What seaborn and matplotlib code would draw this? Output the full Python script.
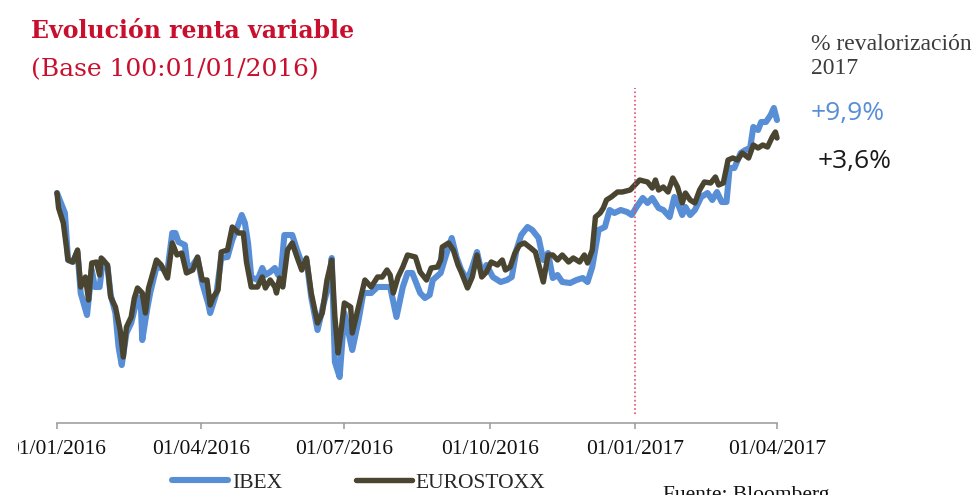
import pandas as pd
import matplotlib.pyplot as plt
import matplotlib.dates as mdates
from matplotlib.transforms import Bbox, TransformedBbox
import seaborn as sns

# base date of the index (Base 100: 01/01/2016); days counted from it
start = pd.Timestamp('2016-01-01')
end = pd.Timestamp('2017-04-01')

ibex_days = [0, 5, 7, 10, 13, 15, 19, 22, 24, 27,
             29, 32, 34, 37, 39, 41, 44, 47, 51, 53,
             54, 57, 59, 63, 66, 70, 73, 75, 77, 81,
             83, 86, 89, 92, 96, 97, 101, 104, 108, 111,
             114, 117, 119, 121, 123, 127, 130, 132, 135, 138,
             140, 142, 144, 149, 152, 155, 158, 161, 165, 169,
             172, 174, 176, 179, 182, 187, 191, 194, 199, 203,
             208, 211, 215, 219, 222, 225, 230, 233, 236, 238,
             243, 246, 250, 253, 256, 260, 263, 266, 269, 272,
             276, 281, 285, 288, 291, 294, 298, 301, 305, 308,
             311, 314, 317, 320, 325, 329, 333, 336, 339, 343,
             347, 350, 353, 357, 361, 364, 367, 371, 374, 377,
             381, 384, 388, 391, 393, 396, 398, 401, 404, 408,
             412, 415, 418, 421, 424, 426, 429, 433, 436, 439,
             441, 444, 446, 449, 452, 454, 456]
ibex_values = [100.0, 98.0, 93.3, 93.1, 94.1, 90.0, 87.8, 92.3, 90.6, 90.6,
               93.3, 92.6, 89.8, 88.0, 84.6, 82.8, 86.0, 87.0, 89.6, 89.3,
               85.3, 88.3, 90.0, 92.6, 92.5, 92.3, 96.0, 96.0, 95.1, 94.8,
               92.3, 92.8, 93.5, 91.0, 88.8, 88.0, 90.0, 93.5, 93.6, 95.3,
               96.5, 97.8, 97.0, 95.0, 91.6, 91.3, 92.5, 91.8, 92.1, 92.5,
               91.8, 92.3, 95.8, 95.8, 94.3, 93.0, 93.3, 89.6, 86.3, 89.0,
               90.8, 93.5, 83.1, 81.6, 88.0, 84.3, 87.3, 90.0, 90.0, 90.6,
               90.6, 90.6, 87.6, 90.6, 92.0, 92.0, 90.0, 89.5, 89.8, 91.3,
               92.0, 93.6, 95.5, 93.6, 92.3, 91.3, 92.6, 94.1, 92.0, 92.8,
               91.6, 91.1, 91.3, 91.6, 94.3, 95.8, 96.6, 96.3, 95.5, 93.3,
               94.0, 91.5, 91.8, 91.1, 91.0, 91.3, 91.5, 91.1, 92.6, 96.3,
               96.6, 98.3, 98.0, 98.3, 98.1, 97.8, 98.6, 99.5, 99.0, 99.5,
               98.5, 98.3, 97.6, 99.6, 99.0, 97.8, 98.6, 97.8, 98.3, 99.6,
               100.0, 99.3, 100.1, 99.1, 99.1, 102.5, 102.5, 104.0, 104.3, 104.5,
               106.6, 106.3, 107.1, 107.1, 107.8, 108.5, 107.3]

stoxx_days = [0, 1, 4, 7, 10, 13, 15, 18, 20, 22,
              25, 27, 28, 32, 34, 37, 40, 42, 44, 47,
              49, 51, 54, 56, 58, 60, 63, 66, 70, 73,
              76, 79, 82, 86, 89, 92, 95, 97, 99, 102,
              104, 108, 111, 115, 118, 120, 123, 127, 130, 132,
              135, 138, 139, 141, 143, 146, 149, 152, 155, 158,
              161, 165, 168, 171, 174, 176, 178, 180, 182, 186,
              187, 190, 193, 195, 199, 203, 206, 209, 211, 213,
              216, 219, 222, 227, 230, 234, 237, 241, 243, 244,
              248, 251, 254, 256, 260, 263, 266, 269, 272, 275,
              279, 282, 284, 287, 290, 293, 296, 300, 303, 306,
              308, 311, 314, 317, 320, 324, 327, 331, 334, 336,
              339, 341, 344, 346, 348, 351, 355, 358, 363, 366,
              369, 374, 377, 379, 381, 384, 387, 390, 393, 396,
              398, 401, 404, 407, 410, 414, 417, 419, 422, 425,
              428, 431, 434, 438, 441, 444, 447, 450, 453, 455,
              456]
stoxx_values = [100.0, 98.5, 97.0, 93.3, 93.1, 94.3, 90.6, 91.6, 89.3, 93.0,
                93.1, 91.8, 93.5, 92.8, 89.6, 88.6, 86.3, 83.6, 86.6, 87.6,
                89.5, 90.5, 90.0, 88.0, 90.5, 91.6, 93.3, 92.8, 91.5, 95.0,
                93.8, 94.0, 92.0, 92.3, 93.6, 91.3, 91.3, 88.8, 89.6, 90.3,
                94.1, 94.3, 96.6, 96.0, 96.0, 93.1, 90.6, 90.6, 91.6, 90.5,
                91.3, 90.6, 90.0, 91.5, 90.6, 94.3, 95.0, 93.6, 92.3, 93.5,
                90.0, 87.0, 88.0, 91.3, 93.3, 87.6, 84.0, 86.3, 89.0, 88.6,
                86.0, 88.0, 90.0, 91.3, 90.6, 91.6, 91.6, 92.3, 91.8, 90.0,
                91.6, 92.6, 93.8, 93.6, 92.1, 91.3, 92.5, 92.6, 93.3, 94.6,
                95.0, 94.3, 92.8, 92.1, 90.5, 91.6, 93.8, 91.6, 92.1, 93.1,
                92.8, 93.3, 92.3, 92.6, 94.0, 94.8, 95.0, 94.5, 94.1, 92.3,
                91.1, 93.8, 93.8, 93.3, 93.8, 93.1, 93.5, 93.1, 93.8, 93.0,
                94.3, 97.6, 98.0, 98.5, 99.3, 99.6, 100.1, 100.1, 100.3, 100.8,
                101.3, 101.1, 100.5, 101.3, 100.3, 100.6, 100.1, 101.5, 100.6, 99.0,
                100.0, 99.3, 99.0, 100.3, 101.1, 101.0, 101.6, 100.8, 101.0, 103.3,
                103.5, 103.3, 104.0, 103.5, 104.8, 104.5, 104.8, 104.6, 105.6, 106.1,
                105.5]

tick_dates = ['2016-01-01', '2016-04-01', '2016-07-01', '2016-10-01', '2017-01-01', '2017-04-01']
series_names = ['IBEX', 'EUROSTOXX']
changes_2017 = ['+9,9%', '+3,6%']

ibex = pd.DataFrame({'fecha': start + pd.to_timedelta(ibex_days, unit='D'),
                     'valor': ibex_values})
stoxx = pd.DataFrame({'fecha': start + pd.to_timedelta(stoxx_days, unit='D'),
                      'valor': stoxx_values})

BLUE = '#588ED6'
DARK = '#4A4530'
RED = '#C8102E'

sns.set_style('white')
plt.rcParams['font.family'] = ['Liberation Serif', 'DejaVu Serif']

W, H = 977, 495
fig = plt.figure(figsize=(W / 100, H / 100), dpi=100)
ax = fig.add_axes([57 / W, 1 - 423 / H, 720 / W, 350 / H])

line_kw = dict(solid_capstyle='round', solid_joinstyle='round', clip_on=False)
sns.lineplot(data=ibex, x='fecha', y='valor', color=BLUE, lw=4.4,
             label=series_names[0], ax=ax, **line_kw)
sns.lineplot(data=stoxx, x='fecha', y='valor', color=DARK, lw=3.9,
             label=series_names[1], ax=ax, **line_kw)

ax.set_xlim(start, end)
ax.set_ylim(77, 112)
ax.vlines(pd.Timestamp('2017-01-01'), 77.9, 110.5, colors='#E0506E',
          linestyles=(0, (1, 1.5)), lw=1.2, zorder=5)

sns.despine(ax=ax, left=True)
ax.spines['bottom'].set_color('#999999')
ax.spines['bottom'].set_linewidth(1.1)
ax.set_yticks([])
ax.set_xlabel('')
ax.set_ylabel('')
ax.set_xticks(pd.to_datetime(tick_dates))
ax.xaxis.set_major_formatter(mdates.DateFormatter('%d/%m/%Y'))
ax.tick_params(axis='x', bottom=True, direction='out', length=4.3, width=1.1,
               color='#999999', labelsize=15.5, pad=8, labelcolor='#111111')

first = ax.get_xticklabels()[0]
first.set_clip_on(True)
first.set_clip_box(TransformedBbox(Bbox([[18 / W, 0], [1, 1]]), fig.transFigure))

handles, labels = ax.get_legend_handles_labels()
ax.get_legend().remove()
fig.legend(handles, labels, loc='center left', bbox_to_anchor=(172 / W, 1 - 483 / H),
           ncol=2, frameon=False, handlelength=2.6, handletextpad=0.2,
           columnspacing=3.4, borderpad=0, borderaxespad=0, fontsize=15.5)

fig.text(31 / W, 1 - 38 / H, 'Evolución renta variable', family='DejaVu Serif',
         fontsize=17, fontweight='bold', color=RED, va='baseline')
fig.text(31 / W, 1 - 76 / H, '(Base 100:01/01/2016)', family='DejaVu Serif',
         fontsize=18, color=RED, va='baseline')

fig.text(811 / W, 1 - 50 / H, '% revalorización', fontsize=17, color='#3c3c3c', va='baseline')
fig.text(811 / W, 1 - 74 / H, '2017', fontsize=17, color='#3c3c3c', va='baseline')
fig.text(811 / W, 1 - 120 / H, changes_2017[0], family='Open Sans', fontsize=19,
         color=BLUE, va='baseline')
fig.text(818 / W, 1 - 168 / H, changes_2017[1], family='Open Sans', fontsize=19,
         color='#1a1a1a', va='baseline')

fig.text(663 / W, 1 - 486 / H, 'Fuente: Bloomberg', fontsize=15.5, color='#111111', va='top')

fig.savefig('out.png', dpi=100)
